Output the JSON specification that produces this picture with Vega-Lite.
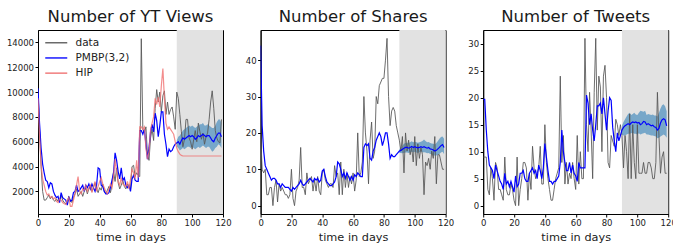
{
  "$schema": "https://vega.github.io/schema/vega-lite/v6.json",
  "padding": {"left": 5, "top": 8, "right": 0, "bottom": 0},
  "bounds": "flush",
  "spacing": 37.6,
  "config": {
    "font": "DejaVu Sans",
    "view": {"stroke": "#000", "strokeWidth": 1},
    "axis": {"grid": false, "domainColor": "#000", "tickColor": "#000", "labelColor": "#222", "titleColor": "#222", "labelFontSize": 8.5, "titleFontSize": 11.3, "titleFontWeight": "normal", "tickSize": 3, "labelPadding": 1.5, "titlePadding": 4, "labelFlush": false, "labelOverlap": false},
    "title": {"fontSize": 16.5, "fontWeight": "normal", "color": "#1a1a1a", "baseline": "alphabetic", "offset": 5, "anchor": "middle"},
    "legend": {"labelFontSize": 10.5, "labelColor": "#222", "padding": 0, "rowPadding": 4.2}
  },
  "datasets": {
    "shade": [{"d": 90, "d2": 120}],
    "yt": [
      {"d":0,"data":10200,"pmbp":10300,"hip":9500},{"d":1,"data":7000,"pmbp":7500,"hip":6500},{"d":2,"data":4000,"pmbp":5500,"hip":4200},{"d":3,"data":2000,"pmbp":4200,"hip":3000},{"d":4,"data":1300,"pmbp":3500,"hip":2500},{"d":5,"data":1300,"pmbp":2900,"hip":2000},{"d":6,"data":1500,"pmbp":2800,"hip":1700},{"d":7,"data":1700,"pmbp":2300,"hip":1800},{"d":8,"data":1400,"pmbp":2700,"hip":1500},{"d":9,"data":1600,"pmbp":2600,"hip":1600},
      {"d":10,"data":1300,"pmbp":2000,"hip":1400},{"d":11,"data":1200,"pmbp":1700,"hip":1500},{"d":12,"data":1400,"pmbp":1500,"hip":1200},{"d":13,"data":1200,"pmbp":1600,"hip":1100},{"d":14,"data":1300,"pmbp":1100,"hip":1400},{"d":15,"data":1700,"pmbp":1900,"hip":1300},{"d":16,"data":1300,"pmbp":1500,"hip":1100},{"d":17,"data":1100,"pmbp":1400,"hip":1000},{"d":18,"data":1000,"pmbp":1300,"hip":950},{"d":19,"data":1200,"pmbp":900,"hip":1300},
      {"d":20,"data":1600,"pmbp":1500,"hip":1500},{"d":21,"data":1300,"pmbp":1200,"hip":800},{"d":22,"data":1100,"pmbp":1300,"hip":800},{"d":23,"data":1500,"pmbp":1900,"hip":1300},{"d":24,"data":1800,"pmbp":2000,"hip":1800},{"d":25,"data":2200,"pmbp":2500,"hip":2500},{"d":26,"data":1600,"pmbp":2000,"hip":3200},{"d":27,"data":1800,"pmbp":2100,"hip":2000},{"d":28,"data":2000,"pmbp":2300,"hip":1800},{"d":29,"data":1600,"pmbp":2500,"hip":2200},
      {"d":30,"data":2000,"pmbp":2000,"hip":2100},{"d":31,"data":2300,"pmbp":2500,"hip":2500},{"d":32,"data":1800,"pmbp":2300,"hip":2000},{"d":33,"data":2200,"pmbp":2600,"hip":2300},{"d":34,"data":2500,"pmbp":2200,"hip":2500},{"d":35,"data":2000,"pmbp":2600,"hip":1900},{"d":36,"data":2300,"pmbp":2300,"hip":2400},{"d":37,"data":2700,"pmbp":2000,"hip":2800},{"d":38,"data":2200,"pmbp":2500,"hip":2000},{"d":39,"data":1900,"pmbp":3900,"hip":2400},
      {"d":40,"data":2300,"pmbp":3800,"hip":2800},{"d":41,"data":2100,"pmbp":2500,"hip":3100},{"d":42,"data":2600,"pmbp":2400,"hip":2600},{"d":43,"data":2000,"pmbp":2000,"hip":2300},{"d":44,"data":1800,"pmbp":1800,"hip":2000},{"d":45,"data":2100,"pmbp":1800,"hip":1800},{"d":46,"data":2400,"pmbp":1900,"hip":2200},{"d":47,"data":1900,"pmbp":2300,"hip":2600},{"d":48,"data":2500,"pmbp":2900,"hip":2300},{"d":49,"data":3600,"pmbp":3500,"hip":3200},
      {"d":50,"data":2800,"pmbp":5100,"hip":4600},{"d":51,"data":3900,"pmbp":4500,"hip":3500},{"d":52,"data":2700,"pmbp":3600,"hip":2800},{"d":53,"data":2200,"pmbp":3000,"hip":2500},{"d":54,"data":2500,"pmbp":3900,"hip":3100},{"d":55,"data":2900,"pmbp":2900,"hip":2600},{"d":56,"data":2400,"pmbp":3100,"hip":2500},{"d":57,"data":2200,"pmbp":2500,"hip":2400},{"d":58,"data":2600,"pmbp":2300,"hip":2800},{"d":59,"data":2300,"pmbp":2500,"hip":2200},
      {"d":60,"data":2200,"pmbp":2000,"hip":3000},{"d":61,"data":4000,"pmbp":3000,"hip":3800},{"d":62,"data":4100,"pmbp":3300,"hip":3500},{"d":63,"data":3200,"pmbp":2900,"hip":3000},{"d":64,"data":3500,"pmbp":2800,"hip":4500},{"d":65,"data":3300,"pmbp":2800,"hip":3100},{"d":66,"data":3200,"pmbp":6900,"hip":7200},{"d":67,"data":14300,"pmbp":6900,"hip":7200},{"d":68,"data":7000,"pmbp":6600,"hip":7000},{"d":69,"data":6700,"pmbp":7000,"hip":7200},
      {"d":70,"data":7200,"pmbp":5800,"hip":5500},{"d":71,"data":5000,"pmbp":4600,"hip":4600},{"d":72,"data":4500,"pmbp":5500,"hip":5200},{"d":73,"data":6300,"pmbp":6800,"hip":7000},{"d":74,"data":7000,"pmbp":7400,"hip":7500},{"d":75,"data":6100,"pmbp":6800,"hip":8000},{"d":76,"data":8700,"pmbp":8300,"hip":9500},{"d":77,"data":10200,"pmbp":7700,"hip":9000},{"d":78,"data":9200,"pmbp":6400,"hip":9600},{"d":79,"data":10000,"pmbp":7300,"hip":8800},
      {"d":80,"data":8400,"pmbp":8400,"hip":10500},{"d":81,"data":9700,"pmbp":8400,"hip":11900},{"d":82,"data":10100,"pmbp":6600,"hip":9500},{"d":83,"data":8200,"pmbp":5800,"hip":7500},{"d":84,"data":9200,"pmbp":4800,"hip":7000},{"d":85,"data":8200,"pmbp":5400,"hip":7200},{"d":86,"data":8600,"pmbp":5200,"hip":7000},{"d":87,"data":8800,"pmbp":5300,"hip":6800},{"d":88,"data":8000,"pmbp":5600,"hip":6600},{"d":89,"data":7000,"pmbp":5800,"hip":6000},
      {"d":90,"data":10000,"pmbp":5900,"hip":5500,"lo":5600,"hi":6100},{"d":91,"data":9500,"pmbp":6000,"hip":5200,"lo":5500,"hi":6400},{"d":92,"data":8200,"pmbp":5800,"hip":5000,"lo":5300,"hi":6500},{"d":93,"data":6800,"pmbp":6100,"hip":4900,"lo":5400,"hi":6700},{"d":94,"data":5600,"pmbp":6300,"hip":4850,"lo":5500,"hi":6900},{"d":95,"data":6200,"pmbp":6200,"hip":4850,"lo":5400,"hi":7000},{"d":96,"data":7800,"pmbp":6300,"hip":4850,"lo":5500,"hi":7100},{"d":97,"data":7800,"pmbp":6400,"hip":4850,"lo":5600,"hi":7200},{"d":98,"data":6300,"pmbp":6500,"hip":4850,"lo":5600,"hi":7300},{"d":99,"data":6000,"pmbp":6400,"hip":4850,"lo":5500,"hi":7200},
      {"d":100,"data":5400,"pmbp":6500,"hip":4850,"lo":5600,"hi":7300},{"d":101,"data":6200,"pmbp":6400,"hip":4850,"lo":5500,"hi":7200},{"d":102,"data":6900,"pmbp":6200,"hip":4850,"lo":5400,"hi":7100},{"d":103,"data":6000,"pmbp":6300,"hip":4850,"lo":5500,"hi":7200},{"d":104,"data":7500,"pmbp":6500,"hip":4850,"lo":5600,"hi":7300},{"d":105,"data":6800,"pmbp":6400,"hip":4850,"lo":5500,"hi":7400},{"d":106,"data":6200,"pmbp":6500,"hip":4850,"lo":5600,"hi":7400},{"d":107,"data":6700,"pmbp":6600,"hip":4850,"lo":5700,"hi":7500},{"d":108,"data":5800,"pmbp":6500,"hip":4850,"lo":5600,"hi":7300},{"d":109,"data":6400,"pmbp":6400,"hip":4850,"lo":5500,"hi":7300},
      {"d":110,"data":6700,"pmbp":6500,"hip":4850,"lo":5600,"hi":7400},{"d":111,"data":7800,"pmbp":6500,"hip":4850,"lo":5600,"hi":7300},{"d":112,"data":9200,"pmbp":6300,"hip":4850,"lo":5400,"hi":7200},{"d":113,"data":10100,"pmbp":6100,"hip":4850,"lo":5200,"hi":7100},{"d":114,"data":8700,"pmbp":6000,"hip":4850,"lo":5300,"hi":7100},{"d":115,"data":6900,"pmbp":6300,"hip":4850,"lo":5500,"hi":7300},{"d":116,"data":6300,"pmbp":6500,"hip":4850,"lo":5600,"hi":7600},{"d":117,"data":6000,"pmbp":6700,"hip":4850,"lo":5800,"hi":7800},{"d":118,"data":5900,"pmbp":6700,"hip":4850,"lo":5700,"hi":7800},{"d":119,"data":7800,"pmbp":6400,"hip":4850,"lo":5500,"hi":7500}
    ],
    "sh": [
      {"d":0,"data":20,"pmbp":44},{"d":1,"data":10,"pmbp":22},{"d":2,"data":9,"pmbp":15},{"d":3,"data":10,"pmbp":11},{"d":4,"data":3,"pmbp":10},{"d":5,"data":3,"pmbp":9},{"d":6,"data":5,"pmbp":8},{"d":7,"data":5,"pmbp":7},{"d":8,"data":0,"pmbp":7.5},{"d":9,"data":5,"pmbp":7.5},
      {"d":10,"data":7,"pmbp":7},{"d":11,"data":1,"pmbp":6},{"d":12,"data":6,"pmbp":6},{"d":13,"data":4,"pmbp":5},{"d":14,"data":5,"pmbp":6},{"d":15,"data":4,"pmbp":5.5},{"d":16,"data":3,"pmbp":5},{"d":17,"data":3,"pmbp":5},{"d":18,"data":2,"pmbp":5},{"d":19,"data":3,"pmbp":4.5},
      {"d":20,"data":10,"pmbp":4},{"d":21,"data":2,"pmbp":5},{"d":22,"data":0,"pmbp":4.5},{"d":23,"data":4,"pmbp":5},{"d":24,"data":5,"pmbp":5.5},{"d":25,"data":7,"pmbp":6},{"d":26,"data":16,"pmbp":7},{"d":27,"data":5,"pmbp":6},{"d":28,"data":5,"pmbp":5.5},{"d":29,"data":3,"pmbp":6},
      {"d":30,"data":9,"pmbp":6.5},{"d":31,"data":6,"pmbp":7},{"d":32,"data":7,"pmbp":7.5},{"d":33,"data":8,"pmbp":7},{"d":34,"data":4,"pmbp":6.5},{"d":35,"data":7,"pmbp":7.5},{"d":36,"data":4,"pmbp":7},{"d":37,"data":8,"pmbp":7.5},{"d":38,"data":4,"pmbp":6.5},{"d":39,"data":3,"pmbp":7},
      {"d":40,"data":9,"pmbp":9.5},{"d":41,"data":10,"pmbp":10},{"d":42,"data":7,"pmbp":8},{"d":43,"data":6,"pmbp":6.5},{"d":44,"data":5,"pmbp":6},{"d":45,"data":6,"pmbp":5.5},{"d":46,"data":6,"pmbp":5.5},{"d":47,"data":5,"pmbp":6},{"d":48,"data":11,"pmbp":6.5},{"d":49,"data":8,"pmbp":8},
      {"d":50,"data":9,"pmbp":12},{"d":51,"data":3,"pmbp":11.5},{"d":52,"data":12,"pmbp":10},{"d":53,"data":3,"pmbp":8},{"d":54,"data":10,"pmbp":9},{"d":55,"data":5,"pmbp":7.5},{"d":56,"data":9,"pmbp":9},{"d":57,"data":5,"pmbp":8},{"d":58,"data":8,"pmbp":7},{"d":59,"data":6,"pmbp":8},
      {"d":60,"data":9,"pmbp":7},{"d":61,"data":4,"pmbp":8.5},{"d":62,"data":7,"pmbp":8},{"d":63,"data":20,"pmbp":9},{"d":64,"data":8,"pmbp":8.5},{"d":65,"data":9,"pmbp":8},{"d":66,"data":12,"pmbp":8},{"d":67,"data":30,"pmbp":16},{"d":68,"data":20,"pmbp":17},{"d":69,"data":15,"pmbp":16.5},
      {"d":70,"data":6,"pmbp":17},{"d":71,"data":18,"pmbp":13},{"d":72,"data":23,"pmbp":12.5},{"d":73,"data":13,"pmbp":15},{"d":74,"data":15,"pmbp":16},{"d":75,"data":30,"pmbp":18},{"d":76,"data":28,"pmbp":19},{"d":77,"data":33,"pmbp":20},{"d":78,"data":34,"pmbp":19},{"d":79,"data":35,"pmbp":16.5},
      {"d":80,"data":35,"pmbp":18},{"d":81,"data":40,"pmbp":20},{"d":82,"data":46,"pmbp":20},{"d":83,"data":30,"pmbp":17},{"d":84,"data":22,"pmbp":13},{"d":85,"data":26,"pmbp":14},{"d":86,"data":27,"pmbp":13.5},{"d":87,"data":26,"pmbp":13.5},{"d":88,"data":22,"pmbp":14},{"d":89,"data":20,"pmbp":14.5},
      {"d":90,"data":18,"pmbp":15,"lo":14.5,"hi":15.6},{"d":91,"data":15,"pmbp":15.2,"lo":14.5,"hi":16},{"d":92,"data":19,"pmbp":15.5,"lo":14.4,"hi":16.5},{"d":93,"data":9,"pmbp":15.8,"lo":14.5,"hi":17},{"d":94,"data":20,"pmbp":16,"lo":14.6,"hi":17.2},{"d":95,"data":15,"pmbp":16,"lo":14.6,"hi":17.3},{"d":96,"data":18,"pmbp":15.8,"lo":14.5,"hi":17.2},{"d":97,"data":14,"pmbp":16,"lo":14.6,"hi":17.4},{"d":98,"data":16,"pmbp":16.3,"lo":14.8,"hi":17.7},{"d":99,"data":12,"pmbp":16,"lo":14.6,"hi":17.4},
      {"d":100,"data":19,"pmbp":16.2,"lo":14.8,"hi":17.6},{"d":101,"data":11,"pmbp":16,"lo":14.6,"hi":17.4},{"d":102,"data":17,"pmbp":15.9,"lo":14.5,"hi":17.3},{"d":103,"data":13,"pmbp":16,"lo":14.7,"hi":17.4},{"d":104,"data":16,"pmbp":16.2,"lo":14.9,"hi":17.6},{"d":105,"data":14,"pmbp":16,"lo":14.6,"hi":17.8},{"d":106,"data":3,"pmbp":16.2,"lo":14.7,"hi":18.2},{"d":107,"data":12,"pmbp":16,"lo":14.6,"hi":17.8},{"d":108,"data":11,"pmbp":15.8,"lo":14.4,"hi":17.4},{"d":109,"data":13,"pmbp":16,"lo":14.5,"hi":17.5},
      {"d":110,"data":10,"pmbp":15.6,"lo":14.2,"hi":17.2},{"d":111,"data":15,"pmbp":15.5,"lo":14.1,"hi":17.1},{"d":112,"data":13,"pmbp":15.3,"lo":14,"hi":17},{"d":113,"data":19,"pmbp":15,"lo":13.7,"hi":16.8},{"d":114,"data":6,"pmbp":15.2,"lo":13.8,"hi":17.2},{"d":115,"data":14,"pmbp":15.6,"lo":14,"hi":17.8},{"d":116,"data":14,"pmbp":16,"lo":14.2,"hi":18.4},{"d":117,"data":12,"pmbp":16.5,"lo":14.6,"hi":18.9},{"d":118,"data":10,"pmbp":16.8,"lo":14.8,"hi":19},{"d":119,"data":10,"pmbp":16,"lo":14.2,"hi":18.4}
    ],
    "tw": [
      {"d":0,"data":9,"pmbp":19.7},{"d":1,"data":9,"pmbp":19.7},{"d":2,"data":9,"pmbp":14},{"d":3,"data":3,"pmbp":10},{"d":4,"data":2,"pmbp":7.5},{"d":5,"data":7,"pmbp":7},{"d":6,"data":5,"pmbp":6.5},{"d":7,"data":1,"pmbp":5},{"d":8,"data":8,"pmbp":7.5},{"d":9,"data":7,"pmbp":6.5},
      {"d":10,"data":3,"pmbp":5.5},{"d":11,"data":3,"pmbp":4.5},{"d":12,"data":2,"pmbp":4},{"d":13,"data":1,"pmbp":3},{"d":14,"data":9,"pmbp":6},{"d":15,"data":3,"pmbp":4},{"d":16,"data":2,"pmbp":4.5},{"d":17,"data":2,"pmbp":3.5},{"d":18,"data":4,"pmbp":4.5},{"d":19,"data":3,"pmbp":3.5},
      {"d":20,"data":1,"pmbp":2.5},{"d":21,"data":0,"pmbp":5.5},{"d":22,"data":9,"pmbp":3.5},{"d":23,"data":0,"pmbp":4},{"d":24,"data":3,"pmbp":6},{"d":25,"data":5,"pmbp":6},{"d":26,"data":8,"pmbp":6.5},{"d":27,"data":8,"pmbp":5},{"d":28,"data":7,"pmbp":4.5},{"d":29,"data":1,"pmbp":4.5},
      {"d":30,"data":6,"pmbp":6},{"d":31,"data":3,"pmbp":6.5},{"d":32,"data":11,"pmbp":7},{"d":33,"data":7,"pmbp":6},{"d":34,"data":5,"pmbp":6.5},{"d":35,"data":6,"pmbp":5},{"d":36,"data":7,"pmbp":7.5},{"d":37,"data":11,"pmbp":6.5},{"d":38,"data":4,"pmbp":5},{"d":39,"data":4,"pmbp":7},
      {"d":40,"data":15,"pmbp":11.5},{"d":41,"data":8,"pmbp":9},{"d":42,"data":5,"pmbp":6.5},{"d":43,"data":3,"pmbp":4.5},{"d":44,"data":1,"pmbp":4.5},{"d":45,"data":1,"pmbp":4},{"d":46,"data":3,"pmbp":4.5},{"d":47,"data":5,"pmbp":4.5},{"d":48,"data":6,"pmbp":5},{"d":49,"data":7,"pmbp":5.5},
      {"d":50,"data":24,"pmbp":8},{"d":51,"data":8,"pmbp":14},{"d":52,"data":13,"pmbp":10},{"d":53,"data":4,"pmbp":8},{"d":54,"data":8,"pmbp":6.5},{"d":55,"data":4,"pmbp":6.5},{"d":56,"data":6,"pmbp":8},{"d":57,"data":5,"pmbp":6},{"d":58,"data":8,"pmbp":7.5},{"d":59,"data":5,"pmbp":6},
      {"d":60,"data":3,"pmbp":5.5},{"d":61,"data":13,"pmbp":4.5},{"d":62,"data":4,"pmbp":8},{"d":63,"data":10,"pmbp":7},{"d":64,"data":5,"pmbp":7},{"d":65,"data":5,"pmbp":7},{"d":66,"data":31,"pmbp":7},{"d":67,"data":15,"pmbp":20.5},{"d":68,"data":10,"pmbp":19},{"d":69,"data":21,"pmbp":15},
      {"d":70,"data":14,"pmbp":17},{"d":71,"data":5,"pmbp":14},{"d":72,"data":21,"pmbp":12},{"d":73,"data":31,"pmbp":15},{"d":74,"data":14,"pmbp":18.5},{"d":75,"data":24,"pmbp":18.5},{"d":76,"data":22,"pmbp":19},{"d":77,"data":10,"pmbp":17},{"d":78,"data":24,"pmbp":20},{"d":79,"data":26,"pmbp":17},
      {"d":80,"data":20,"pmbp":14},{"d":81,"data":8,"pmbp":17.5},{"d":82,"data":7,"pmbp":20},{"d":83,"data":13,"pmbp":19.5},{"d":84,"data":12,"pmbp":14.5},{"d":85,"data":11,"pmbp":12},{"d":86,"data":16,"pmbp":10},{"d":87,"data":15,"pmbp":13.5},{"d":88,"data":13,"pmbp":12},{"d":89,"data":15,"pmbp":13},
      {"d":90,"data":13,"pmbp":14,"lo":13.2,"hi":14.8},{"d":91,"data":7,"pmbp":14.5,"lo":13,"hi":15.5},{"d":92,"data":13,"pmbp":14.8,"lo":13,"hi":16},{"d":93,"data":10,"pmbp":15,"lo":13.2,"hi":16.5},{"d":94,"data":5,"pmbp":15.2,"lo":13.3,"hi":17},{"d":95,"data":17,"pmbp":15,"lo":13.3,"hi":17.2},{"d":96,"data":5,"pmbp":15.3,"lo":13.4,"hi":16.8},{"d":97,"data":15,"pmbp":15.5,"lo":13.5,"hi":17},{"d":98,"data":8,"pmbp":15.4,"lo":13.3,"hi":17.2},{"d":99,"data":5,"pmbp":15.5,"lo":13.3,"hi":16.9},
      {"d":100,"data":15,"pmbp":15.3,"lo":13.2,"hi":16.8},{"d":101,"data":6,"pmbp":15.4,"lo":13.4,"hi":17.2},{"d":102,"data":6,"pmbp":15,"lo":13.2,"hi":17.6},{"d":103,"data":6,"pmbp":15.2,"lo":13.3,"hi":17.5},{"d":104,"data":8,"pmbp":15.6,"lo":13.4,"hi":17.4},{"d":105,"data":6,"pmbp":15.5,"lo":13.5,"hi":17.6},{"d":106,"data":6,"pmbp":15,"lo":13.2,"hi":16.8},{"d":107,"data":8,"pmbp":15.2,"lo":13.2,"hi":17},{"d":108,"data":8,"pmbp":15,"lo":13.1,"hi":16.9},{"d":109,"data":7,"pmbp":14.8,"lo":13,"hi":16.8},
      {"d":110,"data":5,"pmbp":14.9,"lo":13,"hi":16.9},{"d":111,"data":5,"pmbp":14.6,"lo":12.9,"hi":16.7},{"d":112,"data":8,"pmbp":14.5,"lo":12.8,"hi":16.7},{"d":113,"data":21,"pmbp":14,"lo":12.5,"hi":16.5},{"d":114,"data":13,"pmbp":14.3,"lo":12.6,"hi":17.2},{"d":115,"data":6,"pmbp":15.3,"lo":12.8,"hi":18},{"d":116,"data":9,"pmbp":15.9,"lo":13,"hi":18.6},{"d":117,"data":10,"pmbp":16.1,"lo":13.2,"hi":18.8},{"d":118,"data":6,"pmbp":15.9,"lo":13,"hi":18.4},{"d":119,"data":6,"pmbp":14.8,"lo":12.6,"hi":17.5}
    ]
  },
  "hconcat": [
    {
      "width": 185, "height": 184,
      "title": {"text": "Number of YT Views"},
      "encoding": {
        "x": {"field": "d", "type": "quantitative", "scale": {"domain": [0, 120], "nice": false}, "axis": {"values": [0, 20, 40, 60, 80, 100, 120], "title": "time in days"}}
      },
      "layer": [
        {"data": {"name": "shade"}, "mark": {"type": "rect", "color": "#e2e2e2"}, "encoding": {"x2": {"field": "d2"}}},
        {"data": {"name": "yt"}, "mark": {"type": "area", "color": "#1f77b4", "opacity": 0.55, "clip": true},
         "encoding": {"y": {"field": "lo", "type": "quantitative", "scale": {"domain": [180, 15000], "nice": false, "zero": false}, "axis": {"title": null, "values": [2000, 4000, 6000, 8000, 10000, 12000, 14000], "format": "d"}}, "y2": {"field": "hi"}}},
        {"data": {"name": "yt"}, "transform": [{"fold": ["data"], "as": ["s", "v"]}],
         "mark": {"type": "line", "strokeWidth": 1, "opacity": 0.9, "clip": true},
         "encoding": {
           "y": {"field": "v", "type": "quantitative", "scale": {"domain": [180, 15000], "nice": false, "zero": false}, "axis": {"title": null, "values": [2000, 4000, 6000, 8000, 10000, 12000, 14000], "format": "d"}},
           "color": {"field": "s", "type": "nominal", "scale": {"domain": ["data", "pmbp", "hip"], "range": ["#5a5a5a", "#0000ff", "#f07070"]}, "legend": {"title": null, "orient": "none", "legendX": 13, "legendY": 7.5, "symbolType": "M-4,0H4", "symbolSize": 30.25, "symbolStrokeWidth": 1.5, "labelOffset": 14, "labelExpr": "datum.value == 'pmbp' ? 'PMBP(3,2)' : datum.value == 'hip' ? 'HIP' : 'data'"}}
         }},
        {"data": {"name": "yt"}, "transform": [{"fold": ["pmbp"], "as": ["s", "v"]}],
         "mark": {"type": "line", "strokeWidth": 1.2, "clip": true},
         "encoding": {
           "y": {"field": "v", "type": "quantitative", "scale": {"domain": [180, 15000], "nice": false, "zero": false}, "axis": {"title": null, "values": [2000, 4000, 6000, 8000, 10000, 12000, 14000], "format": "d"}},
           "color": {"field": "s", "type": "nominal"}
         }},
        {"data": {"name": "yt"}, "transform": [{"fold": ["hip"], "as": ["s", "v"]}],
         "mark": {"type": "line", "strokeWidth": 1.2, "opacity": 0.8, "clip": true},
         "encoding": {
           "y": {"field": "v", "type": "quantitative", "scale": {"domain": [180, 15000], "nice": false, "zero": false}, "axis": {"title": null, "values": [2000, 4000, 6000, 8000, 10000, 12000, 14000], "format": "d"}},
           "color": {"field": "s", "type": "nominal"}
         }}
      ]
    },
    {
      "width": 185, "height": 184,
      "title": {"text": "Number of Shares"},
      "encoding": {
        "x": {"field": "d", "type": "quantitative", "scale": {"domain": [0, 120], "nice": false}, "axis": {"values": [0, 20, 40, 60, 80, 100, 120], "title": "time in days"}}
      },
      "layer": [
        {"data": {"name": "shade"}, "mark": {"type": "rect", "color": "#e2e2e2"}, "encoding": {"x2": {"field": "d2"}}},
        {"data": {"name": "sh"}, "mark": {"type": "area", "color": "#1f77b4", "opacity": 0.55, "clip": true},
         "encoding": {"y": {"field": "lo", "type": "quantitative", "scale": {"domain": [-2.3, 48.3], "nice": false, "zero": false}, "axis": {"title": null, "values": [0, 10, 20, 30, 40]}}, "y2": {"field": "hi"}}},
        {"data": {"name": "sh"}, "mark": {"type": "line", "strokeWidth": 1, "color": "#555555", "opacity": 0.85, "clip": true},
         "encoding": {"y": {"field": "data", "type": "quantitative", "scale": {"domain": [-2.3, 48.3], "nice": false, "zero": false}, "axis": {"title": null, "values": [0, 10, 20, 30, 40]}}}},
        {"data": {"name": "sh"}, "mark": {"type": "line", "strokeWidth": 1.2, "color": "#0000ff", "clip": true},
         "encoding": {"y": {"field": "pmbp", "type": "quantitative", "scale": {"domain": [-2.3, 48.3], "nice": false, "zero": false}, "axis": {"title": null, "values": [0, 10, 20, 30, 40]}}}}
      ]
    },
    {
      "width": 185, "height": 184,
      "title": {"text": "Number of Tweets"},
      "encoding": {
        "x": {"field": "d", "type": "quantitative", "scale": {"domain": [0, 120], "nice": false}, "axis": {"values": [0, 20, 40, 60, 80, 100, 120], "title": "time in days"}}
      },
      "layer": [
        {"data": {"name": "shade"}, "mark": {"type": "rect", "color": "#e2e2e2"}, "encoding": {"x2": {"field": "d2"}}},
        {"data": {"name": "tw"}, "mark": {"type": "area", "color": "#1f77b4", "opacity": 0.55, "clip": true},
         "encoding": {"y": {"field": "lo", "type": "quantitative", "scale": {"domain": [-1.55, 32.55], "nice": false, "zero": false}, "axis": {"title": null, "values": [0, 5, 10, 15, 20, 25, 30]}}, "y2": {"field": "hi"}}},
        {"data": {"name": "tw"}, "mark": {"type": "line", "strokeWidth": 1, "color": "#555555", "opacity": 0.85, "clip": true},
         "encoding": {"y": {"field": "data", "type": "quantitative", "scale": {"domain": [-1.55, 32.55], "nice": false, "zero": false}, "axis": {"title": null, "values": [0, 5, 10, 15, 20, 25, 30]}}}},
        {"data": {"name": "tw"}, "mark": {"type": "line", "strokeWidth": 1.2, "color": "#0000ff", "clip": true},
         "encoding": {"y": {"field": "pmbp", "type": "quantitative", "scale": {"domain": [-1.55, 32.55], "nice": false, "zero": false}, "axis": {"title": null, "values": [0, 5, 10, 15, 20, 25, 30]}}}}
      ]
    }
  ]
}
